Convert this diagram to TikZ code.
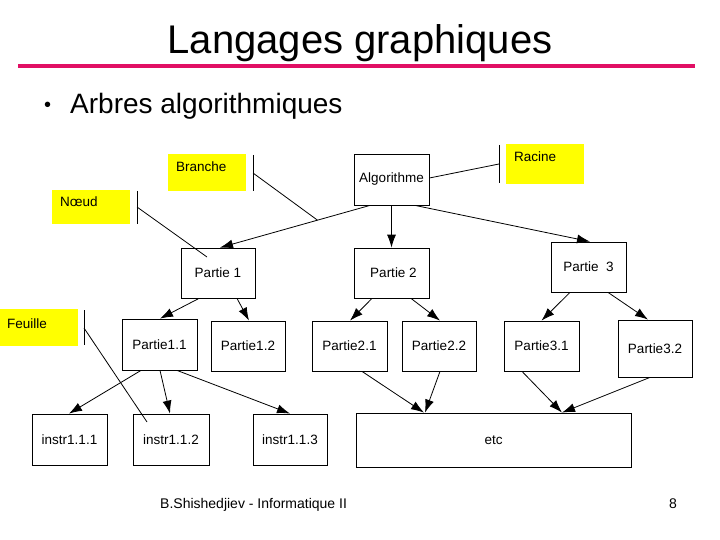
\documentclass[tikz,border=0pt]{standalone}
\usepackage{fontspec}
\setmainfont{Liberation Sans}
\usetikzlibrary{arrows.meta,calc}
\definecolor{magline}{RGB}{225,15,100}
\definecolor{callyel}{RGB}{255,255,0}
\begin{document}
\begin{tikzpicture}[x=1pt,y=-1pt,
  box/.style={draw,line width=0.8pt,inner sep=0pt,font=\fontsize{13.5}{15}\selectfont},
  yelbox/.style={fill=callyel,draw=none,inner sep=0pt},
  yeltext/.style={anchor=base west,inner sep=0pt,font=\fontsize{13.5}{15}\selectfont},
  arr/.style={line width=0.8pt,-{Latex[length=13pt,width=9pt]}},
  thin/.style={line width=0.8pt}]
\useasboundingbox (0,0) rectangle (720,540);
% title
\node[anchor=base,inner sep=0pt,font=\fontsize{40}{44}\selectfont] (title) at (360,54) {Langages graphiques};
\draw[magline,line width=3.5pt] (18,66) -- (695,66);
\node[anchor=base west,inner sep=0pt,font=\fontsize{20}{24}\selectfont] (bul) at (44,112) {•};
\node[anchor=base west,inner sep=0pt,font=\fontsize{28}{32}\selectfont] (sub) at (70,114) {Arbres algorithmiques};
% boxes
\node[box,minimum width=75pt,minimum height=51pt] (alg) at (391.5,179.5) {Algorithme};
\node[box,minimum width=74pt,minimum height=50pt] (p1) at (218,273) {Partie 1};
\node[box,minimum width=75pt,minimum height=50pt] (p2) at (391.5,273) {\hspace{4pt}Partie 2};
\node[box,minimum width=75pt,minimum height=50pt] (p3) at (588.5,267) {Partie\ \ 3};
\node[box,minimum width=75pt,minimum height=51pt] (p11) at (159.5,344.5) {Partie1.1};
\node[box,minimum width=74pt,minimum height=50pt] (p12) at (248,346) {Partie1.2};
\node[box,minimum width=75pt,minimum height=50pt] (p21) at (349.5,346) {Partie2.1};
\node[box,minimum width=74pt,minimum height=50pt] (p22) at (439,346) {Partie2.2};
\node[box,minimum width=75pt,minimum height=50pt] (p31) at (541.5,346) {Partie3.1};
\node[box,minimum width=74pt,minimum height=57pt] (p32) at (655,348.5) {Partie3.2};
\node[box,minimum width=75pt,minimum height=51pt] (i1) at (69.5,439.5) {instr1.1.1};
\node[box,minimum width=76pt,minimum height=51pt] (i2) at (171,439.5) {instr1.1.2};
\node[box,minimum width=74pt,minimum height=51pt] (i3) at (290,439.5) {instr1.1.3};
\node[box,minimum width=275pt,minimum height=54pt] (etc) at (493.5,440) {etc};
% connectors
\draw[arr] ([xshift=-21.5pt]alg.south) -- coordinate[pos=0.35] (brj) ([xshift=2pt]p1.north);
\draw[arr] (alg.south) -- (p2.north);
\draw[arr] ([xshift=23.5pt]alg.south) -- ([xshift=1.5pt]p3.north);
\draw[arr] ([xshift=-19pt]p1.south) -- ([xshift=0.5pt]p11.north);
\draw[arr] ([xshift=19pt]p1.south) -- ([xshift=1pt]p12.north);
\draw[arr] ([xshift=-19.5pt]p2.south) -- ([xshift=0.5pt]p21.north);
\draw[arr] ([xshift=19.5pt]p2.south) -- ([xshift=1pt]p22.north);
\draw[arr] ([xshift=-18.5pt]p3.south) -- (p31.north);
\draw[arr] ([xshift=19.5pt]p3.south) -- ([xshift=-7pt]p32.north);
\draw[arr] ([xshift=-18.5pt]p11.south) -- ([xshift=-0.5pt]i1.north);
\draw[arr] ([xshift=0.5pt]p11.south) -- ([xshift=-1pt]i2.north);
\draw[arr] ([xshift=17.5pt]p11.south) -- (i3.north);
\draw[arr] ([xshift=12.5pt]p21.south) -- ([xshift=-69.5pt]etc.north);
\draw[arr] ([xshift=1pt]p22.south) -- ([xshift=-68.5pt]etc.north);
\draw[arr] ([xshift=-19.5pt]p31.south) -- ([xshift=68.5pt]etc.north);
\draw[arr] ([xshift=-5pt]p32.south) -- ([xshift=68.5pt]etc.north);
% callouts
\node[yelbox,minimum width=78pt,minimum height=40pt] (racb) at (545,164) {};
\node[yeltext] (ract) at (514,162) {Racine};
\coordinate (rac1) at (499,145); \coordinate (rac2) at (499,183); \coordinate (racm) at (499,164);
\draw[thin] (rac1) -- (rac2);
\draw[thin] ([yshift=1.5pt]alg.east) -- (racm);

\node[yelbox,minimum width=78pt,minimum height=37pt] (brb) at (207,172.5) {};
\node[yeltext] (brt) at (176,172) {Branche};
\coordinate (br1) at (253,155); \coordinate (br2) at (253,191); \coordinate (brm) at (253,173);
\draw[thin] (br1) -- (br2);
\draw[thin] (brm) -- (brj);

\node[yelbox,minimum width=78pt,minimum height=34pt] (nb) at (91,207) {};
\node[yeltext] (nt) at (60,207) {Nœud};
\coordinate (n1) at (137,191); \coordinate (n2) at (137,224); \coordinate (nm) at (137,207);
\coordinate (nend) at (207,257);
\draw[thin] (n1) -- (n2);
\draw[thin] (nm) -- (nend);

\node[yelbox,minimum width=78pt,minimum height=37pt] (fb) at (39,327.5) {};
\node[yeltext] (ft) at (7,328) {Feuille};
\coordinate (f1) at (84,310); \coordinate (f2) at (84,345); \coordinate (fm) at (84,328);
\coordinate (fend) at (147,422);
\draw[thin] (f1) -- (f2);
\draw[thin] (fm) -- (fend);
% footer
\node[anchor=base west,inner sep=0pt,font=\fontsize{14}{16}\selectfont] (foot) at (160,508) {B.Shishedjiev - Informatique II};
\node[anchor=base west,inner sep=0pt,font=\fontsize{14}{16}\selectfont] (num) at (669,508) {8};
\end{tikzpicture}
\end{document}
